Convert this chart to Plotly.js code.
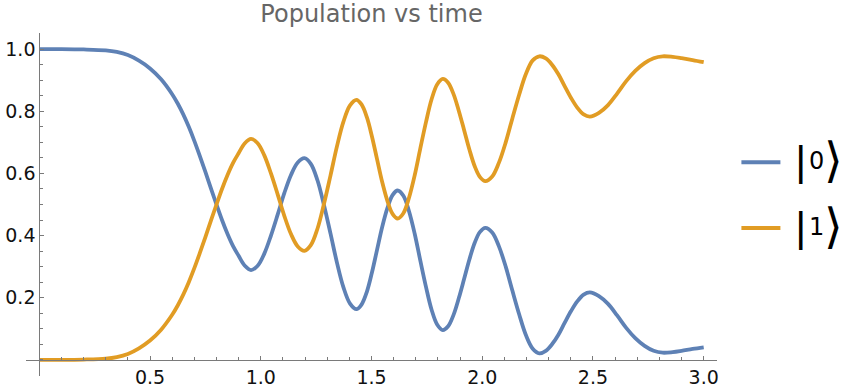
<!DOCTYPE html>
<html>
<head>
<meta charset="utf-8">
<script src="https://cdn.plot.ly/plotly-3.0.1.min.js"></script>
<style>html,body{margin:0;padding:0;background:#fff;}#chart{width:846px;height:392px;}</style>
</head>
<body>
<div id="chart"></div>
<script>
// ---- data ----
const time = [0, 0.1, 0.2, 0.3, 0.35, 0.4, 0.45, 0.5, 0.55, 0.6, 0.625, 0.65, 0.675, 0.7, 0.725, 0.75, 0.775,
  0.8, 0.825, 0.85, 0.875, 0.9, 0.928, 0.956,
  0.986, 1.016, 1.046, 1.077, 1.107, 1.137, 1.167, 1.197,
  1.226, 1.256, 1.285, 1.315, 1.344, 1.373, 1.403, 1.432,
  1.455, 1.479, 1.502, 1.525, 1.548, 1.572, 1.595, 1.618,
  1.644, 1.669, 1.695, 1.72, 1.746, 1.771, 1.797, 1.822,
  1.846, 1.870, 1.894, 1.918, 1.942, 1.966, 1.990, 2.014,
  2.045, 2.075, 2.106, 2.136, 2.167, 2.197, 2.228, 2.258,
  2.287, 2.315, 2.344, 2.372, 2.401, 2.429, 2.458, 2.486,
  2.527, 2.568, 2.609, 2.65, 2.691, 2.733, 2.774, 2.815,
  2.86, 2.9, 2.95, 3.0];
const pop0 = [1.0, 1.0, 0.999, 0.996, 0.991, 0.981, 0.963, 0.938, 0.903, 0.855, 0.825, 0.79, 0.75, 0.705, 0.656, 0.605, 0.552,
  0.5, 0.45, 0.405, 0.366, 0.335, 0.303, 0.289,
  0.303, 0.342, 0.400, 0.469, 0.538, 0.596, 0.635, 0.649,
  0.631, 0.578, 0.499, 0.406, 0.313, 0.234, 0.181, 0.163,
  0.178, 0.219, 0.281, 0.354, 0.427, 0.489, 0.530, 0.545,
  0.528, 0.479, 0.406, 0.321, 0.235, 0.162, 0.113, 0.096,
  0.108, 0.144, 0.198, 0.260, 0.323, 0.377, 0.412, 0.425,
  0.410, 0.366, 0.300, 0.223, 0.146, 0.080, 0.036, 0.021,
  0.029, 0.050, 0.081, 0.119, 0.157, 0.188, 0.210, 0.217,
  0.205, 0.180, 0.143, 0.103, 0.070, 0.045, 0.029, 0.023,
  0.025, 0.029, 0.035, 0.040];
const pop1 = [0.0, 0.0, 0.001, 0.004, 0.009, 0.019, 0.037, 0.062, 0.097, 0.145, 0.175, 0.21, 0.25, 0.295, 0.344, 0.395, 0.448,
  0.5, 0.55, 0.595, 0.634, 0.665, 0.697, 0.711,
  0.697, 0.658, 0.600, 0.531, 0.462, 0.404, 0.365, 0.351,
  0.369, 0.422, 0.501, 0.594, 0.687, 0.766, 0.819, 0.837,
  0.822, 0.781, 0.719, 0.646, 0.573, 0.511, 0.470, 0.455,
  0.472, 0.521, 0.594, 0.679, 0.765, 0.838, 0.887, 0.904,
  0.892, 0.856, 0.802, 0.740, 0.677, 0.623, 0.588, 0.575,
  0.590, 0.634, 0.700, 0.777, 0.854, 0.920, 0.964, 0.977,
  0.970, 0.950, 0.919, 0.881, 0.843, 0.812, 0.790, 0.783,
  0.795, 0.820, 0.857, 0.897, 0.930, 0.955, 0.971, 0.977,
  0.975, 0.971, 0.965, 0.958];
const seriesNames = ['0', '1'];
const xTicks = [0.5, 1.0, 1.5, 2.0, 2.5, 3.0];
const xTickText = ['0.5', '1.0', '1.5', '2.0', '2.5', '3.0'];
const yTicks = [0.2, 0.4, 0.6, 0.8, 1.0];
const yTickText = ['0.2', '0.4', '0.6', '0.8', '1.0'];
const titleText = 'Population vs time';

// ---- layout geometry ----
const L = 25.7, R = 716.6, T = 33, B = 376;
const xRange = [-0.06, 3.06], yRange = [-0.052, 1.052];
const colors = ['#5E81B5', '#E19C24'];
const axisColor = '#7a7a7a';
const px2x = p => (p - L) / (R - L);
const px2y = p => (B - p) / (B - T);

const traces = [pop0, pop1].map((v, i) => ({
  x: time, y: v, type: 'scatter', mode: 'lines',
  line: {color: colors[i], width: 3.8, shape: 'spline', smoothing: 1},
  name: seriesNames[i], showlegend: false, hoverinfo: 'skip'
}));

const legendY = [162.3, 228];
const shapes = [];
const annotations = [];
seriesNames.forEach((nm, i) => {
  shapes.push({type: 'line', xref: 'paper', yref: 'paper',
    x0: px2x(741), x1: px2x(780), y0: px2y(legendY[i]), y1: px2y(legendY[i]),
    line: {color: colors[i], width: 4}});
  annotations.push({xref: 'paper', yref: 'paper', x: px2x(800), y: px2y(legendY[i] - 1),
    text: '|', showarrow: false, xanchor: 'center', yanchor: 'middle',
    font: {family: 'Roboto', size: 47, color: '#000'}});
  annotations.push({xref: 'paper', yref: 'paper', x: px2x(816.5), y: px2y(legendY[i] - 1),
    text: nm, showarrow: false, xanchor: 'center', yanchor: 'middle',
    font: {family: 'DejaVu Sans', size: 24, color: '#000'}});
  annotations.push({xref: 'paper', yref: 'paper', x: px2x(833.5), y: px2y(legendY[i] - 2),
    text: '\u27E9', showarrow: false, xanchor: 'center', yanchor: 'middle',
    font: {family: 'DejaVu Sans', size: 48, color: '#000'}});
});

const tickFont = {family: 'DejaVu Sans', size: 19, color: '#111'};
const layout = {
  width: 846, height: 392,
  margin: {l: L, r: 846 - R, t: T, b: 392 - B, pad: 0},
  paper_bgcolor: '#fff', plot_bgcolor: '#fff',
  title: {text: titleText, font: {family: 'DejaVu Sans', size: 24, color: '#666'},
    x: 0.5, xref: 'paper', xanchor: 'center', y: 0.986, yref: 'container', yanchor: 'top'},
  xaxis: {range: xRange, anchor: 'free', position: px2y(359.8), showgrid: false, zeroline: false,
    showline: true, linecolor: axisColor, linewidth: 1,
    tickmode: 'array', tickvals: xTicks, ticktext: xTickText, ticks: 'inside', ticklen: 4,
    tickcolor: axisColor, tickwidth: 1, tickfont: tickFont,
    minor: {tickmode: 'linear', tick0: 0, dtick: 0.1, ticks: 'inside', ticklen: 2.5, tickcolor: axisColor, tickwidth: 1, showgrid: false},
    automargin: false, fixedrange: true},
  yaxis: {range: yRange, anchor: 'free', position: px2x(39), showgrid: false, zeroline: false,
    showline: true, linecolor: axisColor, linewidth: 1,
    tickmode: 'array', tickvals: yTicks, ticktext: yTickText, ticks: 'inside', ticklen: 4,
    tickcolor: axisColor, tickwidth: 1, tickfont: tickFont,
    minor: {tickmode: 'linear', tick0: 0, dtick: 0.05, ticks: 'inside', ticklen: 2.5, tickcolor: axisColor, tickwidth: 1, showgrid: false},
    automargin: false, fixedrange: true},
  shapes: shapes,
  annotations: annotations,
  showlegend: false
};

Plotly.newPlot('chart', traces, layout, {displayModeBar: false, staticPlot: true});
</script>
</body>
</html>
